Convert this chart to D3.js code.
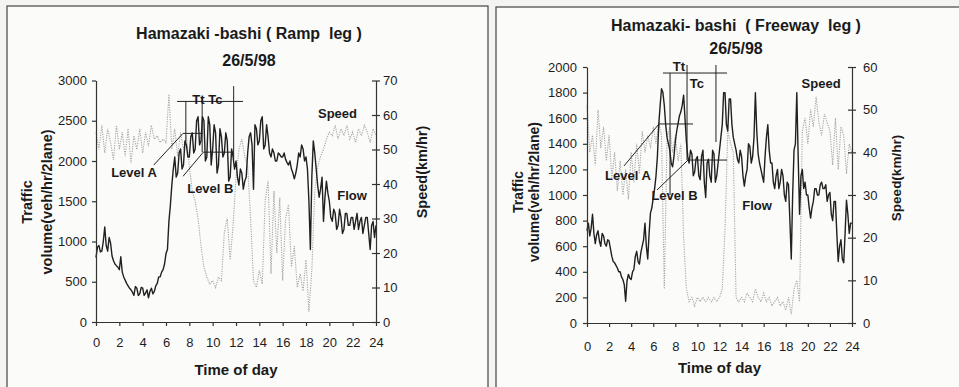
<!DOCTYPE html>
<html>
<head>
<meta charset="utf-8">
<script src="https://cdn.jsdelivr.net/npm/d3@7"></script>
<style>
  html, body { margin: 0; padding: 0; background: #f4f4f2; }
  svg { display: block; font-family: "Liberation Sans", Arial, sans-serif; }
  .axis path, .axis line { stroke: #333; stroke-width: 1.2; }
  .axis text { font-size: 13px; fill: #1e1e1e; font-family: "Liberation Sans", Arial, sans-serif; }
</style>
</head>
<body>
<svg id="chart" width="959" height="387"></svg>
<script>
// flow read every 7.5 minutes, speed every quarter hour, 0h .. 24h
const FLOW_STEP = 0.125;
const SPEED_STEP = 0.25;

const hourTicks = [0, 2, 4, 6, 8, 10, 12, 14, 16, 18, 20, 22, 24];

// Ramp leg
const rampFlowTicks = [0, 500, 1000, 1500, 2000, 2500, 3000];
const rampSpeedTicks = [0, 10, 20, 30, 40, 50, 60, 70];
const rampFlow = [
  800, 930, 950, 870, 880, 1000, 1180, 950,
  880, 1050, 980, 820, 760, 720, 700, 680,
  650, 810, 620, 560, 520, 480, 450, 420,
  400, 370, 330, 440, 420, 330, 350, 430,
  420, 330, 360, 400, 300, 380, 420, 350,
  380, 450, 480, 560, 560, 620, 650, 720,
  850, 900, 1250, 1450, 1700, 1900, 2050, 1800,
  1850, 2100, 2150, 1900, 1950, 2250, 2200, 2050,
  2050, 2300, 2350, 2100, 2150, 2500, 2550, 2200,
  2250, 2550, 2500, 2000, 2050, 2550, 2450, 1950,
  2150, 2450, 2350, 1850, 1950, 2400, 2300, 2050,
  2100, 2350, 2250, 1750, 1800, 2150, 2050, 1900,
  2000, 1800, 1700, 1900, 1850, 1650, 1750, 1800,
  2100, 2300, 2350, 2200, 1650, 2450, 2400, 2200,
  2250, 2500, 2550, 2150, 2200, 2450, 2300, 2100,
  2050, 2150, 2100, 2000, 2000, 2100, 2080, 2050,
  2050, 2100, 2020, 1980, 1950, 2000, 1900, 1850,
  1780, 1850, 1950, 2100, 2050, 2200, 2150, 2000,
  2050, 1900, 1500, 900, 1800, 2250, 2100, 1900,
  1700, 1550, 1650, 1800, 1250, 1550, 1750, 1600,
  1500, 1300, 1250, 1400, 1350, 1150, 1200, 1400,
  1300, 1100, 1150, 1350, 1350, 1200, 1200, 1300,
  1300, 1150, 1250, 1350, 1150, 1250, 1300, 1100,
  1200, 1300, 1300, 1100, 900, 1200, 1250, 1050,
  1200
];
const rampSpeed = [
  55, 50, 57, 49, 56, 52, 47, 57,
  50, 55, 48, 56, 46, 54, 50, 56,
  49, 55, 51, 57, 53, 54, 52, 53,
  52, 66, 50, 56, 48, 55, 50, 54,
  45, 38, 35, 30, 22, 16, 13, 11,
  12, 10, 13, 12, 26, 30, 18, 28,
  42, 50, 53, 48, 45, 30, 12, 10,
  15, 11, 35, 41, 14, 38, 20, 36,
  12, 30, 34, 16, 22, 10, 14, 9,
  18, 3, 15, 38, 45, 48, 50, 53,
  55, 54, 57, 53, 56, 54, 57, 53,
  55, 52, 56, 54, 57, 55, 52, 56,
  54
];

// Freeway leg
const freewayFlowTicks = [0, 200, 400, 600, 800, 1000, 1200, 1400, 1600, 1800, 2000];
const freewaySpeedTicks = [0, 10, 20, 30, 40, 50, 60];
const freewayFlow = [
  720, 780, 680, 740, 850, 700, 620, 690,
  720, 640, 600, 700, 680, 620, 600, 650,
  640, 580, 520, 480, 470, 450, 430, 400,
  400, 360, 340, 300, 170, 330, 380, 350,
  340, 400, 420, 520, 560, 480, 460, 550,
  600, 650, 780, 600, 500, 700, 860, 900,
  980, 1050, 1150, 1300, 1550, 1700, 1830, 1800,
  1700, 1550, 1450, 1400, 1350, 1250, 1220, 1300,
  1420, 1500, 1560, 1620, 1650, 1700, 1780, 1600,
  1420, 1300, 1250, 1350, 1320, 1150, 1180, 1280,
  1300, 1150, 1120, 1300, 1350, 1100, 980, 1250,
  1280, 1150, 1100, 1350, 1320, 1100, 1150, 1250,
  1350, 1450, 1550, 1800, 1800, 1550, 1500, 1750,
  1750, 1550, 1450, 1400, 1350, 1280, 1250, 1350,
  1300, 1150, 1070, 1150, 1200, 1400, 1380, 1250,
  1300, 1450, 1800, 1500, 1320, 1250, 1200, 1150,
  1100, 1300, 1450, 1550, 1350, 1250, 1250, 1100,
  1050, 1150, 1200, 1050, 1100, 1200, 1150, 1000,
  950, 1100, 1080, 800, 500, 1000, 1350, 1400,
  1800, 1300, 850, 1150, 1200, 1050, 1100, 1000,
  1000, 900, 820, 900, 950, 1050, 1050, 1000,
  1000, 1080, 1100, 1050, 1050, 1080, 950, 1000,
  1020, 850, 800, 950, 950, 700, 480, 600,
  650, 500, 470, 700, 960, 850, 700, 780,
  780
];
const freewaySpeed = [
  51, 40, 44, 37, 50, 41, 46, 38,
  44, 34, 40, 31, 38, 30, 36, 29,
  40, 33, 42, 35, 45, 40, 44, 41,
  46, 42, 47, 44, 8, 43, 46, 40,
  44, 38, 42, 20, 8, 5, 6, 4,
  6, 5, 6, 5, 6, 5, 6, 5,
  6, 8, 22, 45, 42, 40, 6, 5,
  6, 5, 7, 6, 5, 8, 6, 5,
  7, 5, 6, 4, 5, 6, 4, 5,
  3, 6, 2, 8, 10, 5, 45, 48,
  42, 50, 46, 53, 47, 44, 49, 47,
  45, 37, 48, 36, 46, 44, 35, 42,
  40
];

// annotation lines, in [hour, flow] pairs
const rampMarks = [
  [[6.95, 2740], [12.6, 2740]],
  [[7.7, 2740], [7.7, 2230]],
  [[9.1, 2800], [9.1, 2110]],
  [[11.8, 2930], [11.8, 2020]],
  [[4.95, 1950], [7.46, 2343], [9.15, 2343]],
  [[7.46, 1810], [9.2, 2110], [11.8, 2110]]
];
const rampLabels = [
  ["Tt Tc", 9.55, 2765],
  ["Level A", 3.26, 1860],
  ["Level B", 9.8, 1660],
  ["Speed", 20.7, 2590],
  ["Flow", 21.95, 1575]
];
const freewayMarks = [
  [[6.88, 1953], [12.68, 1953]],
  [[7.52, 1953], [7.52, 1000]],
  [[9.06, 2016], [9.06, 1273]],
  [[11.68, 2016], [11.68, 1414]],
  [[3.35, 1227], [6.52, 1555], [9.6, 1555]],
  [[6.34, 1039], [9.15, 1273], [12.68, 1273]]
];
const freewayLabels = [
  ["Tt", 8.33, 2008],
  ["Tc", 9.96, 1875],
  ["Level A", 3.71, 1156],
  ["Level B", 7.93, 1000],
  ["Speed", 21.2, 1875],
  ["Flow", 15.4, 922]
];

let svg = d3.select("#chart");

// scanned page frames
svg.append("rect")
  .attr("x", 7).attr("y", 6).attr("width", 481).attr("height", 420)
  .attr("fill", "#fbfbfa").attr("stroke", "#444").attr("stroke-width", 1.2);
svg.append("rect")
  .attr("x", 496).attr("y", 7).attr("width", 480).attr("height", 420)
  .attr("fill", "#fbfbfa").attr("stroke", "#444").attr("stroke-width", 1.2);

function drawPanel(p) {
  let x = d3.scaleLinear().domain([0, 24]).range([p.left, p.right]);
  let yFlow = d3.scaleLinear().domain([0, p.flowMax]).range([p.bottom, p.top]);
  let ySpeed = d3.scaleLinear().domain([0, p.speedMax]).range([p.bottom, p.top]);

  let g = svg.append("g");

  // titles
  g.append("text")
    .attr("x", p.titleX).attr("y", p.title1Y)
    .attr("text-anchor", "middle").attr("dy", "0.35em")
    .attr("font-size", "16px").attr("font-weight", "bold").attr("fill", "#1a1a1a")
    .attr("xml:space", "preserve")
    .text(p.title);
  g.append("text")
    .attr("x", p.titleX).attr("y", p.title2Y)
    .attr("text-anchor", "middle").attr("dy", "0.35em")
    .attr("font-size", "16px").attr("font-weight", "bold").attr("fill", "#1a1a1a")
    .text("26/5/98");

  // series
  let speedLine = d3.line()
    .x(function(d, i) { return x(i * SPEED_STEP); })
    .y(function(d) { return ySpeed(d); });
  let flowLine = d3.line()
    .x(function(d, i) { return x(i * FLOW_STEP); })
    .y(function(d) { return yFlow(d); });

  g.append("path")
    .attr("d", speedLine(p.speed))
    .attr("fill", "none")
    .attr("stroke", "#a6a6a6")
    .attr("stroke-width", 1.1)
    .attr("stroke-dasharray", "1.2,1.2");

  g.append("path")
    .attr("d", flowLine(p.flow))
    .attr("fill", "none")
    .attr("stroke", "#202020")
    .attr("stroke-width", 1.4)
    .attr("stroke-linejoin", "round");

  // annotations
  let markLine = d3.line()
    .x(function(d) { return x(d[0]); })
    .y(function(d) { return yFlow(d[1]); });
  p.marks.forEach(function(m) {
    g.append("path")
      .attr("d", markLine(m))
      .attr("fill", "none")
      .attr("stroke", "#222")
      .attr("stroke-width", 1);
  });
  p.labels.forEach(function(l) {
    g.append("text")
      .attr("x", x(l[1])).attr("y", yFlow(l[2]))
      .attr("text-anchor", "middle").attr("dy", "0.35em")
      .attr("font-size", "13px").attr("font-weight", "bold").attr("fill", "#1a1a1a")
      .text(l[0]);
  });

  // axes
  let fmt = d3.format("d");
  g.append("g")
    .attr("class", "axis")
    .attr("transform", "translate(" + p.left + ",0)")
    .call(d3.axisLeft(yFlow).tickValues(p.flowTicks).tickFormat(fmt)
      .tickSize(4).tickSizeOuter(0).tickPadding(p.leftPad));

  let right = g.append("g")
    .attr("class", "axis")
    .attr("transform", "translate(" + p.right + ",0)")
    .call(d3.axisRight(ySpeed).tickValues(p.speedTicks).tickFormat(fmt)
      .tickSize(4).tickSizeOuter(0).tickPadding(p.rightPad));
  right.selectAll(".tick line").attr("x1", -4);

  g.append("g")
    .attr("class", "axis")
    .attr("transform", "translate(0," + p.bottom + ")")
    .call(d3.axisBottom(x).tickValues(hourTicks).tickFormat(fmt)
      .tickSize(4).tickSizeOuter(0).tickPadding(p.bottomPad));

  g.selectAll(".axis .domain").attr("stroke-width", 1.4);

  // axis titles
  g.append("text")
    .attr("x", (p.left + p.right) / 2).attr("y", p.xTitleY)
    .attr("text-anchor", "middle").attr("dy", "0.35em")
    .attr("font-size", "15px").attr("font-weight", "bold").attr("fill", "#1a1a1a")
    .text("Time of day");

  let yt = g.append("text")
    .attr("transform", "translate(" + p.yTitleX + "," + p.yTitleY + ") rotate(-90)")
    .attr("text-anchor", "middle")
    .attr("font-size", p.yTitleSize).attr("font-weight", "bold").attr("fill", "#1a1a1a");
  yt.append("tspan").attr("x", 0).attr("dy", "0.35em").text("Traffic");
  yt.append("tspan").attr("x", 0).attr("dy", p.yTitleGap).text("volume(veh/hr/2lane)");

  g.append("text")
    .attr("transform", "translate(" + p.y2TitleX + "," + p.y2TitleY + ") rotate(-90)")
    .attr("text-anchor", "middle").attr("dy", "0.35em")
    .attr("font-size", p.y2TitleSize).attr("font-weight", "bold").attr("fill", "#1a1a1a")
    .text("Speed(km/hr)");
}

drawPanel({
  left: 96, right: 376, top: 80.5, bottom: 322,
  flow: rampFlow, speed: rampSpeed,
  flowMax: 3000, speedMax: 70,
  flowTicks: rampFlowTicks, speedTicks: rampSpeedTicks,
  marks: rampMarks, labels: rampLabels,
  title: "Hamazaki -bashi ( Ramp  leg )",
  titleX: 249, title1Y: 33, title2Y: 60,
  leftPad: 5, rightPad: 3, bottomPad: 12,
  xTitleY: 370,
  yTitleX: 27, yTitleY: 202, yTitleGap: 20, yTitleSize: "14.5px",
  y2TitleX: 422, y2TitleY: 172, y2TitleSize: "14.5px"
});

drawPanel({
  left: 587, right: 852, top: 67, bottom: 323,
  flow: freewayFlow, speed: freewaySpeed,
  flowMax: 2000, speedMax: 60,
  flowTicks: freewayFlowTicks, speedTicks: freewaySpeedTicks,
  marks: freewayMarks, labels: freewayLabels,
  title: "Hamazaki- bashi  ( Freeway  leg )",
  titleX: 736, title1Y: 25, title2Y: 48,
  leftPad: 6, rightPad: 7, bottomPad: 15,
  xTitleY: 368,
  yTitleX: 518, yTitleY: 192, yTitleGap: 16, yTitleSize: "14px",
  y2TitleX: 896, y2TitleY: 178, y2TitleSize: "13.5px"
});
</script>
</body>
</html>
